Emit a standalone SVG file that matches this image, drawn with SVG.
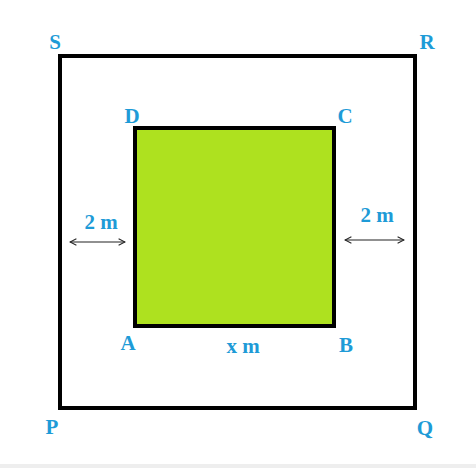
<svg xmlns="http://www.w3.org/2000/svg" width="476" height="468" viewBox="0 0 476 468">
<defs>
<style>
.lbl{font-family:"Liberation Serif","Times New Roman",serif;font-weight:bold;font-size:21px;fill:#1e9bd7;text-anchor:middle}
.box{stroke:#000;stroke-width:4}
.dim{stroke:#222;stroke-width:1.2;fill:none}
</style>
<marker id="ah" viewBox="0 0 10 10" refX="9" refY="5" markerWidth="8" markerHeight="8" orient="auto-start-reverse" markerUnits="userSpaceOnUse">
<path d="M1,1 L9,5 L1,9" fill="none" stroke="#222" stroke-width="1.3"/>
</marker>
</defs>
<rect width="476" height="468" fill="#fff"/>
<rect x="0" y="464" width="476" height="4" fill="#eeeeee"/>
<g id="outer">
<rect class="box" x="60" y="56" width="355" height="352" fill="none"/>
<text class="lbl" x="55" y="49">S</text>
<text class="lbl" x="427" y="49">R</text>
<text class="lbl" x="52" y="434">P</text>
<text class="lbl" x="425" y="435">Q</text>
</g>
<g id="inner">
<rect class="box" x="135" y="128" width="199" height="198" fill="#aee11f"/>
<text class="lbl" x="132" y="123">D</text>
<text class="lbl" x="345" y="123">C</text>
<text class="lbl" x="128" y="350">A</text>
<text class="lbl" x="346" y="352">B</text>
<text class="lbl" x="243" y="353">x m</text>
</g>
<g id="connectors">
<line class="dim" x1="70" y1="242" x2="125" y2="242" marker-start="url(#ah)" marker-end="url(#ah)"/>
<line class="dim" x1="345" y1="240" x2="404" y2="240" marker-start="url(#ah)" marker-end="url(#ah)"/>
</g>
<g id="dims">
<text class="lbl" x="101" y="229">2 m</text>
<text class="lbl" x="377" y="222">2 m</text>
</g>
</svg>
